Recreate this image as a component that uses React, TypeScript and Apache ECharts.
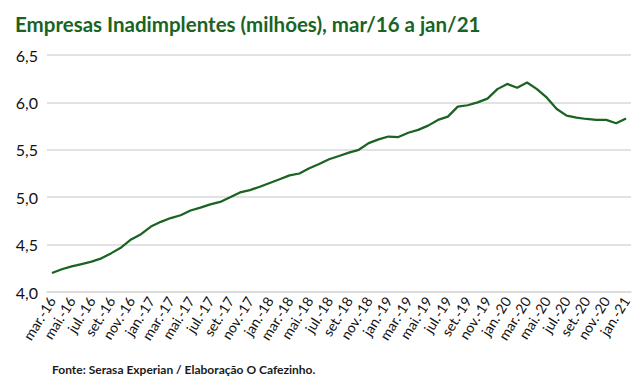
import React, { useEffect, useRef } from "react";
import * as echarts from "echarts";

const TITLE = "Empresas Inadimplentes (milhões), mar/16 a jan/21";
const SOURCE = "Fonte: Serasa Experian / Elaboração O Cafezinho.";

const MONTHS = ["jan", "fev", "mar", "abr", "mai", "jun", "jul", "ago", "set", "out", "nov", "dez"];
const START_YEAR = 2016;
const START_MONTH = 2; // mar
const N_MONTHS = 59;

const categories: string[] = [];
for (let i = 0; i < N_MONTHS; i++) {
  const m = (START_MONTH + i) % 12;
  const y = START_YEAR + Math.floor((START_MONTH + i) / 12);
  categories.push(`${MONTHS[m]}.-${String(y).slice(2)}`);
}

const values = [
  4.20, 4.24, 4.27, 4.295, 4.32, 4.355, 4.41, 4.47, 4.555, 4.61,
  4.69, 4.74, 4.78, 4.81, 4.86, 4.89, 4.925, 4.95, 5.00, 5.05,
  5.075, 5.11, 5.15, 5.19, 5.23, 5.25, 5.305, 5.35, 5.40, 5.435,
  5.47, 5.50, 5.57, 5.61, 5.64, 5.635, 5.68, 5.71, 5.755, 5.815,
  5.85, 5.955, 5.97, 6.00, 6.04, 6.14, 6.195, 6.155, 6.21, 6.14,
  6.05, 5.93, 5.86, 5.84, 5.825, 5.815, 5.815, 5.78, 5.83,
];

const Y_MIN = 4;
const Y_MAX = 6.5;
const Y_STEP = 0.5;

const FONT = "Lato, 'Open Sans', sans-serif";

export default function App() {
  const ref = useRef<HTMLDivElement>(null);
  useEffect(() => {
    if (!ref.current) return;
    const chart = echarts.init(ref.current, null, { renderer: "svg" });
    chart.setOption({
      animation: false,
      backgroundColor: "#ffffff",
      textStyle: { fontFamily: FONT },
      title: [
        {
          text: TITLE,
          left: 10,
          top: 8,
          textStyle: { fontFamily: FONT, fontSize: 20.5, fontWeight: "bold", color: "#1a6322" },
        },
        {
          text: SOURCE,
          left: 47,
          top: 358,
          textStyle: { fontFamily: FONT, fontSize: 12, fontWeight: "bold", color: "#1a1a1a" },
        },
      ],
      grid: { left: 47, right: 13, top: 55, bottom: 95 },
      xAxis: {
        type: "category",
        data: categories,
        boundaryGap: true,
        axisLine: { show: true, lineStyle: { color: "#d9d9d9", width: 1.5 } },
        axisTick: { show: false },
        axisLabel: {
          interval: 1,
          rotate: 58,
          fontSize: 14,
          color: "#111",
          fontFamily: FONT,
          margin: 6,
        },
      },
      yAxis: {
        type: "value",
        min: Y_MIN,
        max: Y_MAX,
        interval: Y_STEP,
        axisLine: { show: false },
        axisTick: { show: false },
        splitLine: { lineStyle: { color: "#d9d9d9", width: 1.5 } },
        axisLabel: {
          fontSize: 16,
          color: "#111",
          fontFamily: FONT,
          margin: 9,
          formatter: (v: number) => v.toFixed(1).replace(".", ","),
        },
      },
      series: [
        {
          type: "line",
          data: values,
          symbol: "none",
          lineStyle: { color: "#1a6322", width: 2.25 },
        },
      ],
    });
    return () => chart.dispose();
  }, []);
  return <div ref={ref} style={{ width: 644, height: 387, margin: -8 }} />;
}
